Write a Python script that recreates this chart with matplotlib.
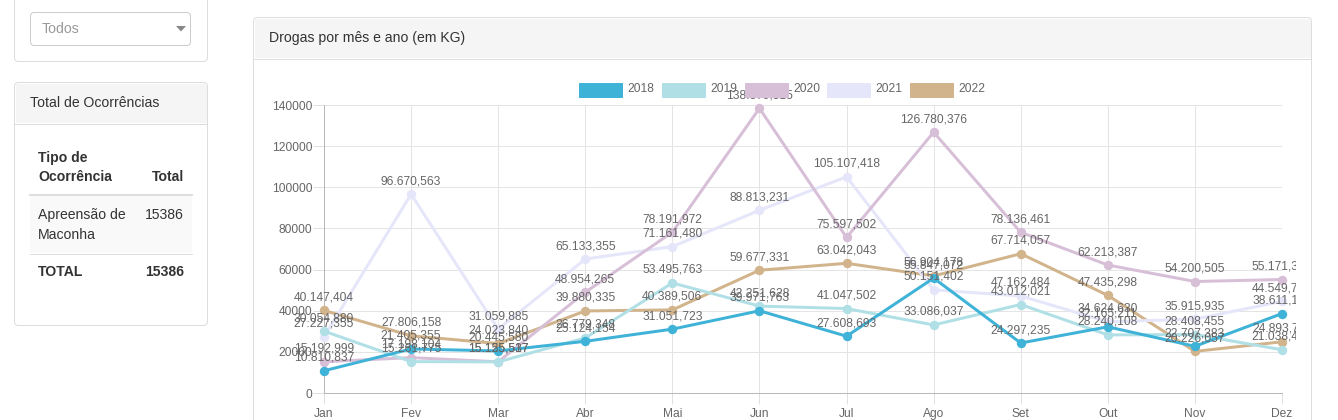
import matplotlib
matplotlib.use("Agg")
import matplotlib.pyplot as plt
from matplotlib.patches import FancyBboxPatch, Rectangle, Polygon
from matplotlib.transforms import Bbox

plt.rcParams['font.family'] = ['Liberation Sans', 'DejaVu Sans']

# ---------------- data ----------------
months = ['Jan', 'Fev', 'Mar', 'Abr', 'Mai', 'Jun', 'Jul', 'Ago', 'Set', 'Out', 'Nov', 'Dez']
years = ['2018', '2019', '2020', '2021', '2022']
v2018 = [10810.837, 21405.355, 20445.580, 25124.154, 31051.723, 39971.763,
         27608.693, 55847.072, 24297.235, 32165.211, 22707.383, 38611.153]
v2019 = [30054.880, 15261.775, 15125.537, 26779.348, 53495.763, 42251.628,
         41047.502, 33086.037, 43012.021, 28240.108, 28408.455, 21038.421]
v2020 = [15192.999, 17198.104, 15155.517, 48954.265, 78191.972, 138379.815,
         75597.502, 126780.376, 78136.461, 62213.387, 54200.505, 55171.345]
v2021 = [27227.355, 96670.563, 31059.885, 65133.355, 71161.480, 88813.231,
         105107.418, 50151.402, 47162.484, 34624.630, 35915.935, 44549.712]
v2022 = [40147.404, 27806.158, 24023.840, 39880.335, 40389.506, 59677.331,
         63042.043, 56904.178, 67714.057, 47435.298, 20226.057, 24893.712]
series = [v2018, v2019, v2020, v2021, v2022]
colors = ['#3fb2d8', '#b0e0e6', '#d8bfd8', '#e6e6fa', '#d2b48c']
yticks = [0, 20000, 40000, 60000, 80000, 100000, 120000, 140000]

table_header = ['Tipo de\nOcorrência', 'Total']
table_rows = [['Apreensão de\nMaconha', '15386']]
table_total = ['TOTAL', '15386']

W, H = 1338, 420
fig = plt.figure(figsize=(W / 100, H / 100), dpi=100)
fig.patch.set_facecolor('white')

PX = 72 / 100.0  # points per pixel


def fs(px):
    return px * PX


# background overlay axes in pixel coordinates
bg = fig.add_axes([0, 0, 1, 1], zorder=0)
bg.set_xlim(0, W)
bg.set_ylim(H, 0)
bg.axis('off')


def rbox(x0, y0, x1, y1, fc='white', ec='#dddddd', lw=1.0, r=4, z=1):
    p = FancyBboxPatch((x0, y0), x1 - x0, y1 - y0,
                       boxstyle=f"round,pad=0,rounding_size={r}",
                       fc=fc, ec=ec, lw=lw * PX, zorder=z, mutation_aspect=1)
    bg.add_patch(p)
    return p


# ---- sidebar box 1 (filter) ----
rbox(14.5, -20, 207.5, 61.5)
rbox(30.5, 12.5, 190.5, 45.5, ec='#cccccc', z=2)
bg.text(42, 29, 'Todos', fontsize=fs(14), color='#999999', va='center', ha='left', zorder=3)
bg.add_patch(Polygon([[176, 26], [186, 26], [181, 31.5]], closed=True, fc='#888888', ec='none', zorder=3))

# ---- sidebar box 2 (table) ----
rbox(14.5, 82.5, 207.5, 325.5)
bg.add_patch(Rectangle((15.5, 83.5), 191, 39.5, fc='#f5f5f5', ec='none', zorder=2))
bg.plot([15, 207], [123.5, 123.5], color='#dddddd', lw=1 * PX, zorder=3)
bg.text(30, 103, 'Total de Ocorrências', fontsize=fs(14), color='#333333', va='center', ha='left', zorder=3)

hdr_lines = table_header[0].split('\n')
bg.text(38, 158, hdr_lines[0], fontsize=fs(14), weight='bold', color='#333333', va='center', zorder=3)
bg.text(38, 177, hdr_lines[1], fontsize=fs(14), weight='bold', color='#333333', va='center', zorder=3)
bg.text(184, 177, table_header[1], fontsize=fs(14), weight='bold', color='#333333', va='center', ha='right', zorder=3)
bg.plot([30, 192], [195, 195], color='#dddddd', lw=2 * PX, zorder=3)
bg.add_patch(Rectangle((30, 196), 162, 57, fc='#f9f9f9', ec='none', zorder=2))
r_lines = table_rows[0][0].split('\n')
bg.text(38, 215, r_lines[0], fontsize=fs(14), color='#333333', va='center', zorder=3)
bg.text(38, 235, r_lines[1], fontsize=fs(14), color='#333333', va='center', zorder=3)
bg.text(184, 215, table_rows[0][1], fontsize=fs(14), color='#333333', va='center', ha='right', zorder=3)
bg.plot([30, 192], [253.5, 253.5], color='#dddddd', lw=1 * PX, zorder=3)
bg.text(38, 272, table_total[0], fontsize=fs(14), weight='bold', color='#333333', va='center', zorder=3)
bg.text(184, 272, table_total[1], fontsize=fs(14), weight='bold', color='#333333', va='center', ha='right', zorder=3)

# ---- chart panel ----
rbox(253.5, 17.5, 1311.5, 440)
bg.add_patch(Rectangle((254.5, 18.5), 1056, 39.5, fc='#f5f5f5', ec='none', zorder=2))
bg.plot([254, 1311], [58.5, 58.5], color='#dddddd', lw=1 * PX, zorder=3)
bg.text(269, 38, 'Drogas por mês e ano (em KG)', fontsize=fs(14), color='#333333', va='center', ha='left', zorder=3)

# ---- chart axes ----
x0, x1, ytop, ybot = 324, 1282, 105, 393
ax = fig.add_axes([x0 / W, (H - ybot) / H, (x1 - x0) / W, (ybot - ytop) / H], zorder=1)
ax.patch.set_alpha(0)
ax.set_xlim(0, len(months) - 1)
ax.set_ylim(0, 140000)
ax.set_xticks(range(len(months)))
ax.set_xticklabels(months)
ax.set_yticks(yticks)
ax.set_yticklabels([str(v) for v in yticks])
ax.tick_params(axis='both', length=8, width=1 * PX, color='#e0e0e0',
               labelsize=fs(12), labelcolor='#666666', pad=0.5)
ax.tick_params(axis='x', pad=3)
ax.grid(True, color='#e4e4e4', lw=1 * PX)
ax.set_axisbelow(True)
for s in ['top', 'right']:
    ax.spines[s].set_visible(False)
for s in ['left', 'bottom']:
    ax.spines[s].set_color('#b8b8b8')
    ax.spines[s].set_linewidth(1 * PX)


def fmt(v):
    s = f"{v:,.3f}"
    return s.replace(',', '#').replace('.', ',').replace('#', '.')


clip = Bbox([[253, 0], [1296, H - 58]])
xs = list(range(len(months)))
n = len(series)
for k, (vals, c) in enumerate(zip(series, colors)):
    ax.plot(xs, vals, color=c, lw=3 * PX, marker='o', ms=8 * PX,
            mfc=c, mec=c, zorder=10 + (n - k), clip_on=False)
for k, vals in enumerate(series):
    for i, v in enumerate(vals):
        t = ax.annotate(fmt(v), (i, v), xytext=(0, 13), textcoords='offset pixels',
                        ha='center', va='center', fontsize=fs(12), color='#666666',
                        zorder=30, annotation_clip=False)
        t.set_clip_on(True)
        t.set_clip_box(clip)

# ---- legend (on top of labels) ----
lx = [579, 662, 745, 827, 910]
for xl, yl, c in zip(lx, years, colors):
    ax.add_patch(Rectangle((xl, 82.5), 43, 14, fc=c, ec=c, lw=1 * PX,
                           transform=bg.transData, clip_on=False, zorder=40))
    ax.text(xl + 48, 89.5, yl, fontsize=fs(12), color='#666666', va='center', ha='left',
            transform=bg.transData, clip_on=False, zorder=40)

fig.savefig('out.png', dpi=100, facecolor='white')
